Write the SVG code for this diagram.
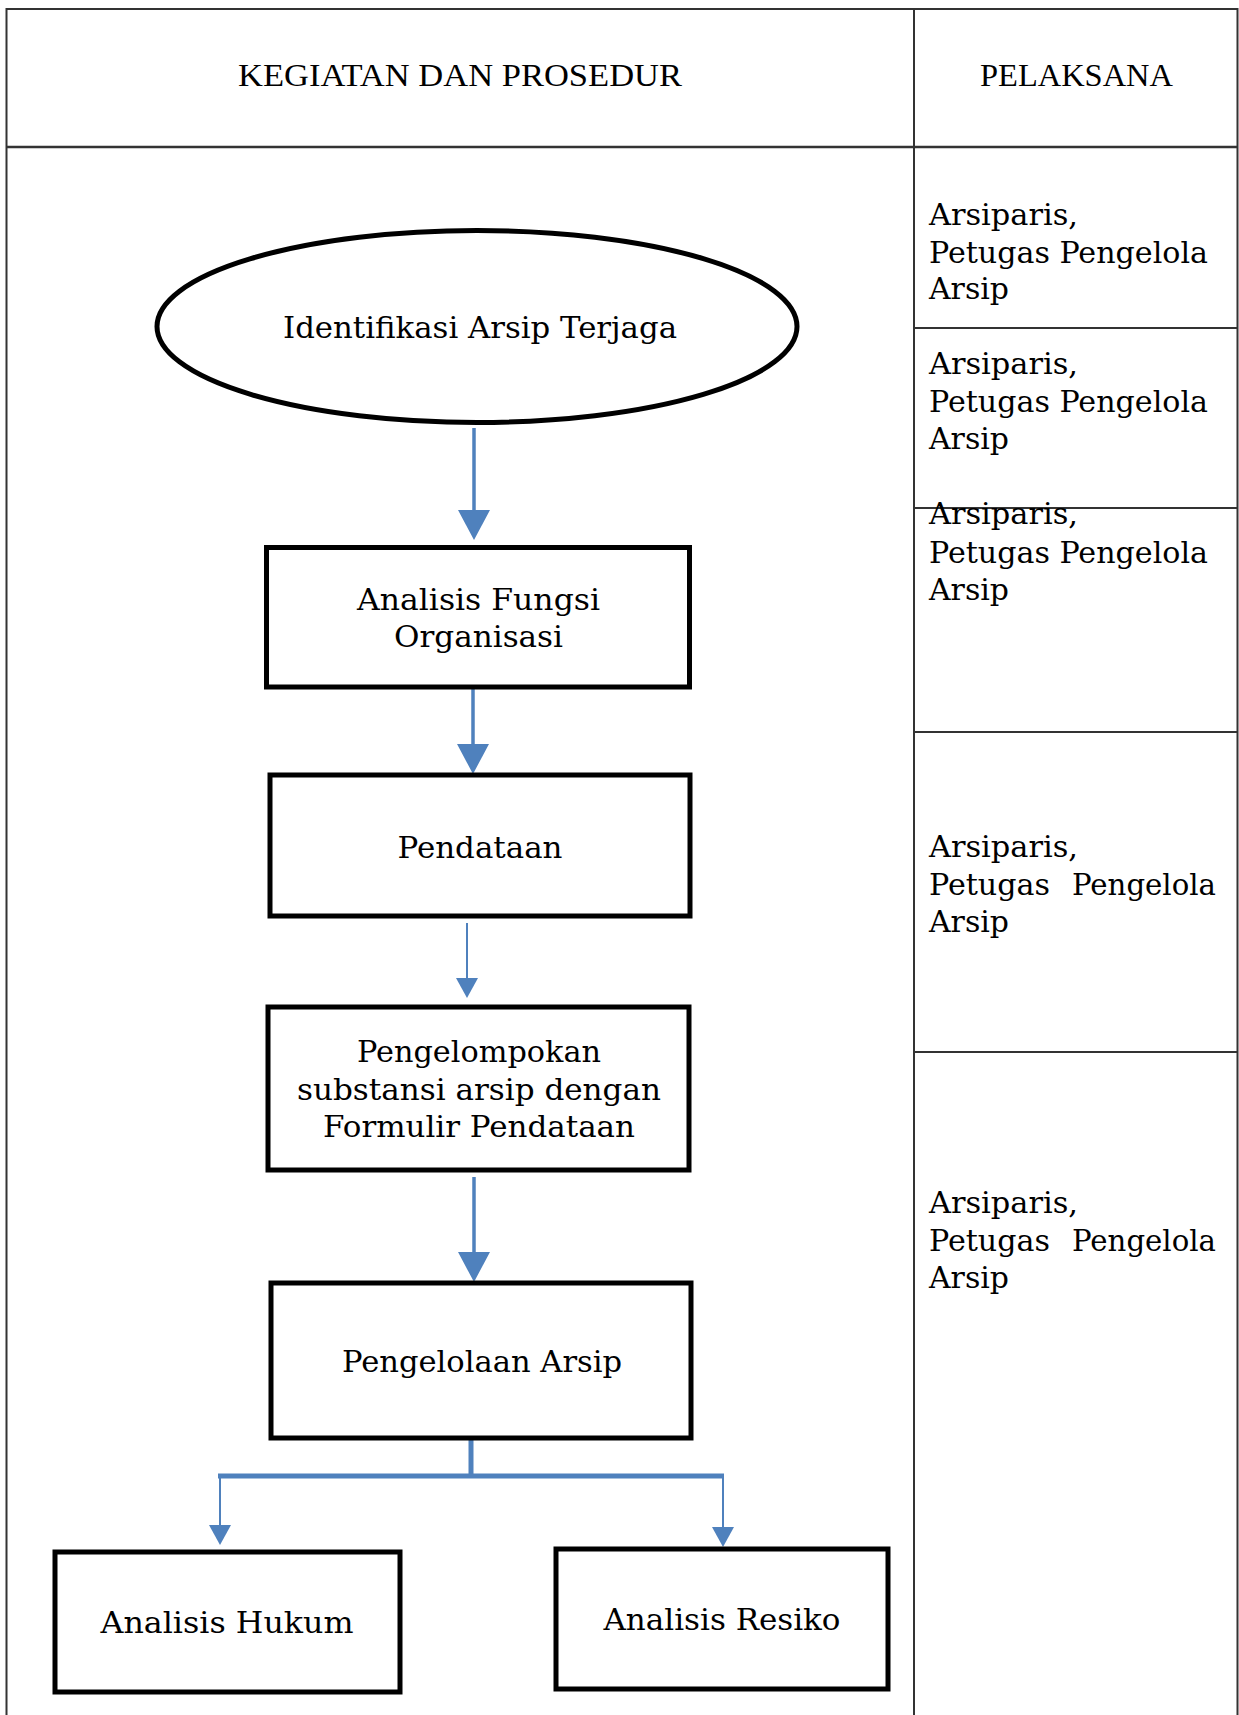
<svg xmlns="http://www.w3.org/2000/svg" width="1239" height="1715" viewBox="0 0 1239 1715">
<style>
.grid{stroke:#333;stroke-width:2;fill:none}
.hdr{font-family:"Liberation Serif","Times New Roman",serif;font-size:32px;fill:#000;text-anchor:middle}
.lbl{font-family:"DejaVu Serif","Liberation Serif",serif;font-size:30px;fill:#000;text-anchor:middle}
.who{font-family:"DejaVu Serif","Liberation Serif",serif;font-size:29.5px;fill:#000}
.node{fill:#fff;stroke:#000;stroke-width:5}
.thick{stroke:#4F81BD;stroke-width:3.5;fill:none}
.thin{stroke:#4F81BD;stroke-width:2;fill:none}
.bar{stroke:#4F81BD;stroke-width:5;fill:none}
</style>
<defs>
<marker id="ahBig" markerUnits="userSpaceOnUse" markerWidth="30" markerHeight="32" viewBox="0 0 30 32" refX="0" refY="16" orient="auto">
<path d="M0,0 L30,16 L0,32 Z" fill="#4F81BD"/>
</marker>
<marker id="ahSmall" markerUnits="userSpaceOnUse" markerWidth="20" markerHeight="22" viewBox="0 0 20 22" refX="0" refY="11" orient="auto">
<path d="M0,0 L20,11 L0,22 Z" fill="#4F81BD"/>
</marker>
</defs>
<rect width="1239" height="1715" fill="#fff"/>
<g id="table">
<line class="grid" x1="6.5" y1="9" x2="1237.5" y2="9"/>
<line class="grid" x1="6.5" y1="8" x2="6.5" y2="1715"/>
<line class="grid" x1="1237.5" y1="8" x2="1237.5" y2="1715"/>
<line class="grid" x1="914" y1="8" x2="914" y2="1715"/>
<line class="grid" x1="6.5" y1="147" x2="1237.5" y2="147" style="stroke-width:2.5"/>
<line class="grid" x1="914" y1="328" x2="1237.5" y2="328"/>
<line class="grid" x1="914" y1="508" x2="1237.5" y2="508"/>
<line class="grid" x1="914" y1="732" x2="1237.5" y2="732"/>
<line class="grid" x1="914" y1="1052" x2="1237.5" y2="1052"/>
<text class="hdr" x="460" y="86" textLength="444" lengthAdjust="spacingAndGlyphs">KEGIATAN DAN PROSEDUR</text>
<text class="hdr" x="1076.5" y="86" textLength="193" lengthAdjust="spacingAndGlyphs">PELAKSANA</text>
</g>
<g id="pelaksana">
<g id="p1">
<text class="who" x="929" y="225" textLength="149" lengthAdjust="spacingAndGlyphs">Arsiparis,</text>
<text class="who" x="929" y="262.5" textLength="279" lengthAdjust="spacingAndGlyphs">Petugas Pengelola</text>
<text class="who" x="929" y="299" textLength="80" lengthAdjust="spacingAndGlyphs">Arsip</text>
</g>
<g id="p2">
<text class="who" x="929" y="374" textLength="149" lengthAdjust="spacingAndGlyphs">Arsiparis,</text>
<text class="who" x="929" y="411.5" textLength="279" lengthAdjust="spacingAndGlyphs">Petugas Pengelola</text>
<text class="who" x="929" y="448.5" textLength="80" lengthAdjust="spacingAndGlyphs">Arsip</text>
</g>
<g id="p3">
<text class="who" x="929" y="524" textLength="149" lengthAdjust="spacingAndGlyphs">Arsiparis,</text>
<text class="who" x="929" y="563" textLength="279" lengthAdjust="spacingAndGlyphs">Petugas Pengelola</text>
<text class="who" x="929" y="600" textLength="80" lengthAdjust="spacingAndGlyphs">Arsip</text>
</g>
<g id="p4">
<text class="who" x="929" y="857" textLength="149" lengthAdjust="spacingAndGlyphs">Arsiparis,</text>
<text class="who" x="929" y="895" textLength="121" lengthAdjust="spacingAndGlyphs">Petugas</text>
<text class="who" x="1072" y="895" textLength="144" lengthAdjust="spacingAndGlyphs">Pengelola</text>
<text class="who" x="929" y="932" textLength="80" lengthAdjust="spacingAndGlyphs">Arsip</text>
</g>
<g id="p5">
<text class="who" x="929" y="1213" textLength="149" lengthAdjust="spacingAndGlyphs">Arsiparis,</text>
<text class="who" x="929" y="1251" textLength="121" lengthAdjust="spacingAndGlyphs">Petugas</text>
<text class="who" x="1072" y="1251" textLength="144" lengthAdjust="spacingAndGlyphs">Pengelola</text>
<text class="who" x="929" y="1288" textLength="80" lengthAdjust="spacingAndGlyphs">Arsip</text>
</g>
</g>
<g id="connectors">
<path class="thick" d="M474,428 V510" marker-end="url(#ahBig)"/>
<path class="thick" d="M473,687 V744" marker-end="url(#ahBig)"/>
<path class="thin" d="M467,923 V978" marker-end="url(#ahSmall)"/>
<path class="thick" d="M474,1177 V1252" marker-end="url(#ahBig)"/>
<path class="bar" d="M471,1438 V1476"/>
<path class="bar" d="M218,1476 H724"/>
<path class="thin" d="M220,1476 V1525" marker-end="url(#ahSmall)"/>
<path class="thin" d="M723,1476 V1527" marker-end="url(#ahSmall)"/>
</g>
<g id="n-identifikasi">
<ellipse class="node" cx="477" cy="326.5" rx="320" ry="96"/>
<text class="lbl" x="480" y="338" textLength="394" lengthAdjust="spacingAndGlyphs">Identifikasi Arsip Terjaga</text>
</g>
<g id="n-fungsi">
<rect class="node" x="266.5" y="547.5" width="423" height="139.5"/>
<text class="lbl" x="478.5" y="610" textLength="243" lengthAdjust="spacingAndGlyphs">Analisis Fungsi</text>
<text class="lbl" x="478.5" y="647" textLength="169" lengthAdjust="spacingAndGlyphs">Organisasi</text>
</g>
<g id="n-pendataan">
<rect class="node" x="270" y="775" width="420" height="141"/>
<text class="lbl" x="480" y="858" textLength="165" lengthAdjust="spacingAndGlyphs">Pendataan</text>
</g>
<g id="n-pengelompokan">
<rect class="node" x="268" y="1007" width="421" height="163"/>
<text class="lbl" x="479" y="1062" textLength="244" lengthAdjust="spacingAndGlyphs">Pengelompokan</text>
<text class="lbl" x="479" y="1100" textLength="364" lengthAdjust="spacingAndGlyphs">substansi arsip dengan</text>
<text class="lbl" x="479" y="1137" textLength="312" lengthAdjust="spacingAndGlyphs">Formulir Pendataan</text>
</g>
<g id="n-pengelolaan">
<rect class="node" x="271" y="1283" width="420" height="155"/>
<text class="lbl" x="482" y="1372" textLength="280" lengthAdjust="spacingAndGlyphs">Pengelolaan Arsip</text>
</g>
<g id="n-hukum">
<rect class="node" x="55" y="1552" width="345" height="140"/>
<text class="lbl" x="227" y="1633" textLength="253" lengthAdjust="spacingAndGlyphs">Analisis Hukum</text>
</g>
<g id="n-resiko">
<rect class="node" x="556" y="1549" width="332" height="140"/>
<text class="lbl" x="722" y="1630" textLength="237" lengthAdjust="spacingAndGlyphs">Analisis Resiko</text>
</g>
</svg>
